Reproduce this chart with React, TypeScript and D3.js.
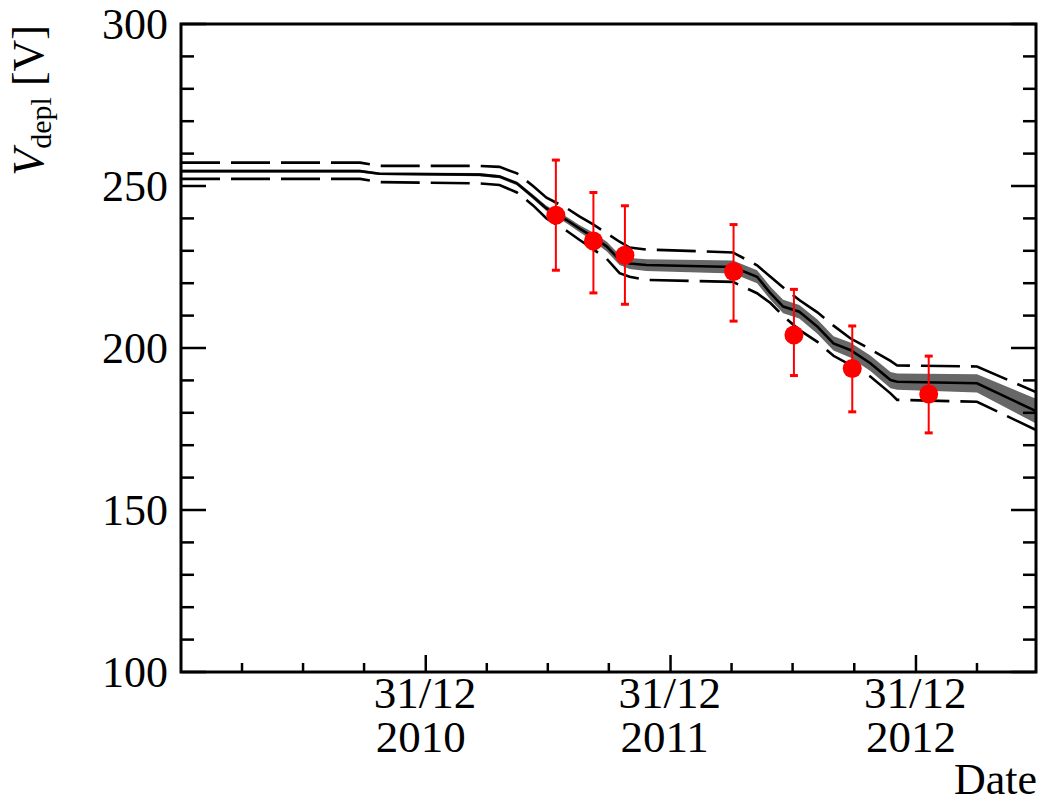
import React from 'react';
import * as d3 from 'd3';

// ---------- data ----------
const curveDates = [
  '2009-12-31', '2010-09-24', '2010-10-23', '2011-03-21', '2011-04-20', '2011-05-16',
  '2011-06-09', '2011-06-29', '2011-07-29', '2011-08-17', '2011-09-06', '2011-09-27',
  '2011-10-16', '2011-10-31', '2011-11-25', '2012-04-02', '2012-05-08', '2012-05-28',
  '2012-06-16', '2012-07-10', '2012-08-06', '2012-08-30', '2012-09-24', '2012-10-24',
  '2012-11-23', '2012-12-03', '2013-04-01', '2013-06-28',
];
const curveCentral = [
  254.6, 254.6, 253.8, 253.5, 252.9, 250.8, 246.7, 243.1, 239.5, 236.9, 234.4, 231.3,
  227.2, 226.1, 225.6, 225.0, 222.0, 216.9, 212.8, 211.2, 206.6, 201.4, 199.4, 195.3,
  190.1, 189.6, 189.1, 180.5,
];
const curveUpper = [
  257.2, 257.2, 256.2, 256.2, 255.9, 253.9, 250.0, 246.4, 243.2, 240.6, 238.2, 235.4,
  232.8, 231.0, 230.4, 229.5, 225.5, 222.0, 218.7, 214.8, 211.0, 206.9, 203.0, 199.6,
  196.0, 194.6, 194.3, 186.4,
];
const curveLower = [
  252.2, 252.2, 251.2, 250.8, 250.3, 248.0, 244.0, 240.0, 236.2, 233.4, 230.6, 227.5,
  223.1, 222.0, 221.0, 220.4, 216.9, 213.9, 209.9, 205.6, 201.9, 197.6, 194.8, 191.2,
  186.0, 184.0, 183.4, 174.7,
];
const bandHalfWidth = [
  0.4, 0.4, 0.4, 0.5, 0.5, 0.6, 0.7, 0.8, 1.0, 1.1, 1.3, 1.5,
  1.6, 1.7, 1.8, 2.0, 2.0, 2.0, 2.1, 2.1, 2.2, 2.2, 2.3, 2.4,
  2.5, 2.5, 2.8, 3.8,
];

const pointDates = ['2011-07-13', '2011-09-07', '2011-10-24', '2012-04-03', '2012-07-02', '2012-09-27', '2013-01-19'];
const pointValues = [241.0, 233.0, 228.6, 223.6, 204.0, 193.7, 185.8];
const pointErrHigh = [258.0, 248.0, 243.9, 238.1, 218.1, 206.8, 197.5];
const pointErrLow = [224.0, 217.0, 213.5, 208.3, 191.5, 180.3, 173.8];

const xDomain = ['2009-12-31', '2013-06-28'];
const xMajorTicks = ['2010-12-31', '2011-12-31', '2012-12-31'];
const xMajorLabelTop = ['31/12', '31/12', '31/12'];
const xMajorLabelBottom = ['2010', '2011', '2012'];
const xMinorTicks = [
  '2010-04-01', '2010-07-01', '2010-09-30',
  '2011-04-01', '2011-07-01', '2011-09-30',
  '2012-03-31', '2012-06-30', '2012-09-30',
  '2013-04-01',
];
const yMajorTicks = [100, 150, 200, 250, 300];
const yMinorTicks = [110, 120, 130, 140, 160, 170, 180, 190, 210, 220, 230, 240, 260, 270, 280, 290];

// ---------- layout ----------
const W = 1042;
const H = 803;
const L = 181;
const R = 1036;
const T = 24;
const B = 672;
const FONT = '"Liberation Serif", "Times New Roman", serif';

const parse = (s: string) => new Date(s + 'T00:00:00Z');

export default function App() {
  const x = d3.scaleUtc().domain(xDomain.map(parse)).range([L, R]);
  const y = d3.scaleLinear().domain([100, 300]).range([B, T]);

  const rows = curveDates.map((d, i) => ({
    date: parse(d),
    c: curveCentral[i],
    u: curveUpper[i],
    l: curveLower[i],
    hw: bandHalfWidth[i],
  }));

  const lineC = d3.line<any>().x((d) => x(d.date)).y((d) => y(d.c));
  const lineU = d3.line<any>().x((d) => x(d.date)).y((d) => y(d.u));
  const lineL = d3.line<any>().x((d) => x(d.date)).y((d) => y(d.l));
  const band = d3
    .area<any>()
    .x((d) => x(d.date))
    .y0((d) => y(d.c - d.hw))
    .y1((d) => y(d.c + d.hw));

  const pts = pointDates.map((d, i) => ({
    date: parse(d),
    v: pointValues[i],
    hi: pointErrHigh[i],
    lo: pointErrLow[i],
  }));

  return (
    <svg
      width={W}
      height={H}
      style={{ position: 'absolute', left: 0, top: 0, background: '#fff' }}
      fontFamily={FONT}
    >
      <defs>
        <clipPath id="plotClip">
          <rect x={L} y={T} width={R - L} height={B - T} />
        </clipPath>
      </defs>
      <rect x={0} y={0} width={W} height={H} fill="#fff" />

      <g clipPath="url(#plotClip)">
        <path d={band(rows) || ''} fill="#676767" stroke="none" />
        <path d={lineU(rows) || ''} fill="none" stroke="#000" strokeWidth={2.6} strokeDasharray="39 11" />
        <path d={lineL(rows) || ''} fill="none" stroke="#000" strokeWidth={2.6} strokeDasharray="39 11" />
        <path d={lineC(rows) || ''} fill="none" stroke="#000" strokeWidth={2.6} />
      </g>

      {/* data points */}
      <g>
        {pts.map((p, i) => {
          const px = x(p.date);
          return (
            <g key={i}>
              <line x1={px} x2={px} y1={y(p.hi)} y2={y(p.lo)} stroke="#ff0000" strokeWidth={2} />
              <line x1={px - 4} x2={px + 4} y1={y(p.hi)} y2={y(p.hi)} stroke="#ff0000" strokeWidth={3} />
              <line x1={px - 4} x2={px + 4} y1={y(p.lo)} y2={y(p.lo)} stroke="#ff0000" strokeWidth={3} />
              <circle cx={px} cy={y(p.v)} r={9.5} fill="#ff0000" />
            </g>
          );
        })}
      </g>

      {/* ticks */}
      <g stroke="#000" strokeWidth={2.5}>
        {yMajorTicks.map((v) => (
          <g key={'ym' + v}>
            <line x1={L} x2={L + 25} y1={y(v)} y2={y(v)} />
            <line x1={R - 25} x2={R} y1={y(v)} y2={y(v)} />
          </g>
        ))}
        {yMinorTicks.map((v) => (
          <g key={'yn' + v}>
            <line x1={L} x2={L + 13} y1={y(v)} y2={y(v)} />
            <line x1={R - 13} x2={R} y1={y(v)} y2={y(v)} />
          </g>
        ))}
        {xMajorTicks.map((d) => (
          <line key={'xm' + d} x1={x(parse(d))} x2={x(parse(d))} y1={B} y2={B - 17} />
        ))}
        {xMinorTicks.map((d) => (
          <line key={'xn' + d} x1={x(parse(d))} x2={x(parse(d))} y1={B} y2={B - 9} />
        ))}
      </g>

      {/* frame */}
      <rect x={L} y={T} width={R - L} height={B - T} fill="none" stroke="#000" strokeWidth={3} />

      {/* y tick labels */}
      <g fontSize={44} textAnchor="end" fill="#000">
        {yMajorTicks.map((v) => (
          <text key={'yl' + v} x={168} y={y(v) + 14.5}>
            {v}
          </text>
        ))}
      </g>

      {/* x tick labels (two lines, left-aligned block centred on the tick) */}
      <g fontSize={45} textAnchor="start" fill="#000">
        {xMajorTicks.map((d, i) => {
          const px = x(parse(d));
          return (
            <text key={'xl' + d}>
              <tspan x={px - 52} y={708}>
                {xMajorLabelTop[i]}
              </tspan>
              <tspan x={px - 50} y={752}>
                {xMajorLabelBottom[i]}
              </tspan>
            </text>
          );
        })}
      </g>

      {/* axis titles */}
      <text x={1037} y={794} fontSize={44} textAnchor="end" fill="#000">
        Date
      </text>
      <text
        transform={`translate(43, ${T + 1}) rotate(-90)`}
        fontSize={44}
        textAnchor="end"
        fill="#000"
      >
        <tspan fontStyle="italic">V</tspan>
        <tspan fontSize={30} dy={8}>
          depl
        </tspan>
        <tspan dy={-8}> [V]</tspan>
      </text>
    </svg>
  );
}
